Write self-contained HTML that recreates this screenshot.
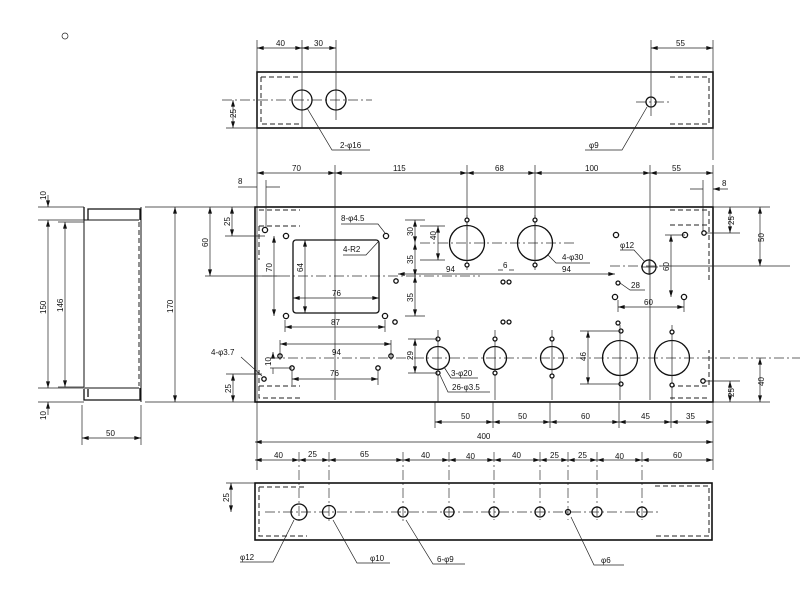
<!DOCTYPE html>
<html><head><meta charset="utf-8"><style>
html,body{margin:0;padding:0;background:#fff;}
svg{display:block;}
text{font-family:"Liberation Sans",sans-serif;font-size:8px;fill:#111;}
.t{stroke:#111;stroke-width:1.6;fill:none}
.d{stroke:#222;stroke-width:0.7;fill:none}
.dm{stroke:#222;stroke-width:0.7;fill:none;marker-start:url(#a);marker-end:url(#a)}
.c{stroke:#333;stroke-width:0.7;stroke-dasharray:10 3 2 3;fill:none}
.h{stroke:#222;stroke-width:1;stroke-dasharray:5 3;fill:none}
.o{stroke:#111;stroke-width:1.3;fill:none}
.s{stroke:#111;stroke-width:1.3;fill:#fff}
</style></head><body>
<svg width="800" height="591" viewBox="0 0 800 591" xmlns="http://www.w3.org/2000/svg">
<defs>
<marker id="a" viewBox="0 0 10 6" refX="10" refY="3" markerWidth="7" markerHeight="4" orient="auto-start-reverse" markerUnits="userSpaceOnUse"><path d="M0,0 L10,3 L0,6z" fill="#111"/></marker>
</defs>

<!-- ===== TOP PANEL ===== -->
<rect x="257" y="72" width="456" height="56" class="t"/>
<path d="M261,77 H300 M261,77 V124 H300 M670,77 H709 V124 H670" class="h"/>
<line x1="222" y1="100" x2="372" y2="100" class="c"/>
<line x1="636" y1="102" x2="670" y2="102" class="c"/>
<circle cx="302" cy="100" r="10" class="o"/><circle cx="336" cy="100" r="10" class="o"/><circle cx="651" cy="102" r="5" class="o"/>
<path d="M302,40 V128 M336,40 V120 M651,40 V116 M257,40 V470 M713,40 V160" class="d"/>
<line x1="257" y1="48" x2="302" y2="48" class="dm"/><line x1="302" y1="48" x2="336" y2="48" class="dm"/>
<line x1="651" y1="48" x2="713" y2="48" class="dm"/>
<text x="276" y="46">40</text><text x="314" y="46">30</text><text x="676" y="46">55</text>
<line x1="233" y1="100" x2="233" y2="128" class="dm"/><path d="M226,128 H257" class="d"/>
<text transform="translate(236,118) rotate(-90)">25</text>
<path d="M307,108 L332,150 H370 M647,107 L622,150 H585" class="d"/>
<text x="340" y="148">2-φ16</text><text x="589" y="148">φ9</text>

<!-- ===== MAIN PANEL ===== -->
<rect x="255" y="207" width="458" height="195" class="t"/>
<path d="M259,210 H300 M259,226 H300 M259,226 V260 M259,370 V398 H300 M259,386 H300 M670,210 H709 V280 M670,225 H709 M670,386 H709 V350 M670,398 H709" class="h"/>
<!-- top dims -->
<path d="M335,165 V400 M467,165 V230 M535,165 V230 M650,165 V400 M713,165 V207" class="d"/>
<line x1="257" y1="173" x2="335" y2="173" class="dm"/><line x1="335" y1="173" x2="467" y2="173" class="dm"/>
<line x1="467" y1="173" x2="535" y2="173" class="dm"/><line x1="535" y1="173" x2="650" y2="173" class="dm"/>
<line x1="650" y1="173" x2="713" y2="173" class="dm"/>
<text x="292" y="171">70</text><text x="393" y="171">115</text><text x="495" y="171">68</text><text x="585" y="171">100</text><text x="672" y="171">55</text>
<path d="M266,180 V232 M703,180 V232" class="d"/>
<path d="M238,187 H257 M280,187 H266 M690,189 H703 M728,189 H713" class="d" marker-end="url(#a)"/>
<text x="238" y="184">8</text><text x="722" y="186">8</text>
<!-- left dims -->
<path d="M145,207 H255 M145,402 H255 M205,276 H280 M225,236 H265" class="d"/>
<line x1="232" y1="207" x2="232" y2="236" class="dm"/><text transform="translate(230,226) rotate(-90)">25</text>
<line x1="210" y1="207" x2="210" y2="276" class="dm"/><text transform="translate(208,247) rotate(-90)">60</text>
<line x1="175" y1="207" x2="175" y2="402" class="dm"/><text transform="translate(173,313) rotate(-90)">170</text>
<line x1="233" y1="374" x2="233" y2="402" class="dm"/><path d="M226,374 H262" class="d"/>
<text transform="translate(231,393) rotate(-90)">25</text>
<text x="211" y="355">4-φ3.7</text><path d="M241,357 L262,376" class="d"/>
<!-- right dims -->
<path d="M713,207 H770 M705,233 H740 M660,266 H790 M705,381 H740 M713,402 H770" class="d"/>
<line x1="730" y1="207" x2="730" y2="233" class="dm"/><text transform="translate(734,225) rotate(-90)">25</text>
<line x1="760" y1="207" x2="760" y2="266" class="dm"/><text transform="translate(764,242) rotate(-90)">50</text>
<line x1="730" y1="381" x2="730" y2="402" class="dm"/><text transform="translate(734,397) rotate(-90)">25</text>
<line x1="760" y1="358" x2="760" y2="402" class="dm"/><text transform="translate(764,386) rotate(-90)">40</text>
<!-- centerlines -->
<line x1="262" y1="276" x2="480" y2="276" class="c"/>
<line x1="420" y1="243" x2="575" y2="243" class="c"/>
<line x1="610" y1="266" x2="665" y2="266" class="c"/>
<line x1="270" y1="358" x2="800" y2="358" class="c"/>
<!-- cutout -->
<rect x="293" y="240" width="86" height="73" rx="3" class="o"/>
<!-- big holes -->
<circle cx="467" cy="243" r="17.5" class="o"/><circle cx="535" cy="243" r="17.5" class="o"/>
<circle cx="649" cy="267" r="7" class="o"/>
<circle cx="438" cy="358" r="11.5" class="o"/><circle cx="495" cy="358" r="11.5" class="o"/><circle cx="552" cy="358" r="11.5" class="o"/>
<circle cx="620" cy="358" r="17.5" class="o"/><circle cx="672" cy="358" r="17.5" class="o"/>
<path d="M467,215 V270 M535,215 V270 M438,330 V402 M495,330 V400 M552,330 V400 M620,325 V400 M672,325 V400 M641,267 H658 M649,259 V275" class="d"/>
<!-- small holes -->
<g class="s">
<circle cx="265" cy="230" r="2.6"/><circle cx="286" cy="236" r="2.6"/><circle cx="386" cy="236" r="2.6"/>
<circle cx="286" cy="316" r="2.6"/><circle cx="385" cy="316" r="2.6"/><circle cx="396" cy="281" r="2.2"/>
<circle cx="395" cy="322" r="2.2"/><circle cx="280" cy="356" r="2.2"/><circle cx="292" cy="368" r="2.2"/>
<circle cx="378" cy="368" r="2.2"/><circle cx="391" cy="356" r="2.2"/><circle cx="264" cy="379" r="2.2"/>
<circle cx="467" cy="220" r="2"/><circle cx="467" cy="265" r="2"/><circle cx="535" cy="220" r="2"/><circle cx="535" cy="265" r="2"/>
<circle cx="503" cy="282" r="2"/><circle cx="509" cy="282" r="2"/><circle cx="503" cy="322" r="2"/><circle cx="509" cy="322" r="2"/>
<circle cx="438" cy="339" r="2"/><circle cx="438" cy="373" r="2"/><circle cx="495" cy="339" r="2"/><circle cx="495" cy="373" r="2"/>
<circle cx="552" cy="339" r="2"/><circle cx="552" cy="376" r="2"/>
<circle cx="616" cy="235" r="2.6"/><circle cx="685" cy="235" r="2.6"/><circle cx="704" cy="233" r="2.2"/>
<circle cx="618" cy="283" r="2"/><circle cx="615" cy="297" r="2.6"/><circle cx="684" cy="297" r="2.6"/>
<circle cx="618" cy="323" r="2"/><circle cx="621" cy="331" r="2"/><circle cx="621" cy="384" r="2"/>
<circle cx="672" cy="332" r="2"/><circle cx="672" cy="385" r="2"/><circle cx="703" cy="381" r="2.2"/>
</g>
<!-- internal dims -->
<path d="M405,220 H425 M405,316 H425 M420,226 H445 M420,260 H445" class="d"/>
<line x1="415" y1="220" x2="415" y2="243" class="dm"/><text transform="translate(413,236) rotate(-90)">30</text>
<line x1="415" y1="243" x2="415" y2="276" class="dm"/><text transform="translate(413,264) rotate(-90)">35</text>
<line x1="415" y1="276" x2="415" y2="316" class="dm"/><text transform="translate(413,302) rotate(-90)">35</text>
<line x1="438" y1="226" x2="438" y2="260" class="dm"/><text transform="translate(436,240) rotate(-90)">40</text>
<line x1="274" y1="236" x2="274" y2="316" class="dm"/><text transform="translate(272,272) rotate(-90)">70</text>
<line x1="305" y1="240" x2="305" y2="313" class="dm"/><text transform="translate(303,272) rotate(-90)">64</text>
<line x1="293" y1="298" x2="379" y2="298" class="dm"/><text x="332" y="296">76</text>
<path d="M285,320 V332 M385,320 V332 M280,340 V360 M391,340 V360 M292,370 V385 M378,370 V385" class="d"/>
<line x1="285" y1="327" x2="385" y2="327" class="dm"/><text x="331" y="325">87</text>
<line x1="280" y1="344" x2="391" y2="344" class="dm"/><text x="332" y="355">94</text>
<line x1="292" y1="379" x2="378" y2="379" class="dm"/><text x="330" y="376">76</text>
<line x1="273" y1="352" x2="273" y2="356" class="d" marker-start="url(#a)"/><line x1="273" y1="368" x2="273" y2="374" class="d"/>
<text transform="translate(271,366) rotate(-90)">10</text>
<path d="M270,368 H292" class="d"/>
<path d="M408,339 H438 M408,373 H438" class="d"/>
<line x1="415" y1="339" x2="415" y2="373" class="dm"/><text transform="translate(413,360) rotate(-90)">29</text>
<path d="M580,331 H621 M580,384 H621" class="d"/>
<line x1="588" y1="331" x2="588" y2="384" class="dm"/><text transform="translate(586,361) rotate(-90)">46</text>
<path d="M665,235 H685" class="d"/>
<line x1="671" y1="235" x2="671" y2="297" class="dm"/><text transform="translate(669,271) rotate(-90)">60</text>
<path d="M618,300 V312 M684,300 V312" class="d"/>
<line x1="618" y1="307" x2="684" y2="307" class="dm"/><text x="644" y="305">60</text>
<line x1="398" y1="274" x2="615" y2="274" class="dm"/>
<text x="446" y="272">94</text><text x="562" y="272">94</text><text x="503" y="268">6</text>
<path d="M498,270 H503 M514,270 H509" class="d"/>
<path d="M620,283 L630,290 H645" class="d"/><text x="631" y="288">28</text>
<!-- leaders -->
<path d="M341,224 H378 L385,233" class="d"/><text x="341" y="221">8-φ4.5</text>
<path d="M343,255 H366 L378,242" class="d"/><text x="343" y="252">4-R2</text>
<path d="M548,255 L556,263 H590" class="d"/><text x="562" y="260">4-φ30</text>
<path d="M620,250 H634 L645,262" class="d"/><text x="620" y="248">φ12</text>
<path d="M444,367 L451,378 H478" class="d"/><text x="451" y="376">3-φ20</text>
<path d="M440,375 L448,392 H490" class="d"/><text x="452" y="390">26-φ3.5</text>
<!-- bottom dims -->
<path d="M435,402 V428 M493,402 V428 M550,402 V428 M619,402 V428 M671,402 V428 M713,402 V470" class="d"/>
<line x1="435" y1="422" x2="493" y2="422" class="dm"/><line x1="493" y1="422" x2="550" y2="422" class="dm"/>
<line x1="550" y1="422" x2="619" y2="422" class="dm"/><line x1="619" y1="422" x2="671" y2="422" class="dm"/>
<line x1="671" y1="422" x2="713" y2="422" class="dm"/>
<text x="461" y="419">50</text><text x="518" y="419">50</text><text x="581" y="419">60</text><text x="641" y="419">45</text><text x="686" y="419">35</text>
<line x1="255" y1="442" x2="713" y2="442" class="dm"/><text x="477" y="439">400</text>

<!-- ===== BOTTOM PANEL chain ===== -->
<g class="dm">
<line x1="255" y1="460" x2="299" y2="460"/><line x1="299" y1="460" x2="329" y2="460"/><line x1="329" y1="460" x2="403" y2="460"/>
<line x1="403" y1="460" x2="449" y2="460"/><line x1="449" y1="460" x2="494" y2="460"/><line x1="494" y1="460" x2="540" y2="460"/>
<line x1="540" y1="460" x2="568" y2="460"/><line x1="568" y1="460" x2="597" y2="460"/><line x1="597" y1="460" x2="642" y2="460"/>
<line x1="642" y1="460" x2="713" y2="460"/>
</g>
<text x="274" y="458">40</text><text x="308" y="457">25</text><text x="360" y="457">65</text><text x="421" y="458">40</text>
<text x="466" y="459">40</text><text x="512" y="458">40</text><text x="550" y="458">25</text><text x="578" y="458">25</text>
<text x="615" y="459">40</text><text x="673" y="458">60</text>
<path d="M299,452 V522 M329,452 V522 M403,452 V522 M449,452 V520 M494,452 V520 M540,452 V520 M568,452 V520 M597,452 V520 M642,452 V520" class="c"/>
<rect x="255" y="483" width="457" height="57" class="t"/>
<path d="M259,487 H305 M259,487 V536 H307 M655,486 H709 V536 H655" class="h"/>
<line x1="265" y1="512" x2="660" y2="512" class="c"/>
<circle cx="299" cy="512" r="8" class="o"/><circle cx="329" cy="512" r="6.5" class="o"/>
<circle cx="403" cy="512" r="5" class="o"/><circle cx="449" cy="512" r="5" class="o"/><circle cx="494" cy="512" r="5" class="o"/>
<circle cx="540" cy="512" r="5" class="o"/><circle cx="568" cy="512" r="2.5" class="o"/><circle cx="597" cy="512" r="5" class="o"/>
<circle cx="642" cy="512" r="5" class="o"/>
<path d="M226,483 H255" class="d"/>
<line x1="231" y1="483" x2="231" y2="512" class="dm"/><text transform="translate(229,502) rotate(-90)">25</text>
<path d="M294,520 L273,562 H240 M333,520 L357,563 H390 M406,520 L433,564 H465 M571,517 L594,565 H624" class="d"/>
<text x="240" y="560">φ12</text><text x="370" y="561">φ10</text><text x="437" y="562">6-φ9</text><text x="601" y="563">φ6</text>

<!-- ===== SIDE VIEW ===== -->
<path d="M88,220 V209 H140 V220" class="t" style="stroke-width:1.3"/>
<path d="M84,207 V220" class="t" style="stroke-width:1.3"/>
<path d="M84,220 V387 M84,220 H139 M84,388 H139" class="o" style="stroke-width:1"/>
<path d="M84,389 V400 H140 V388" class="t" style="stroke-width:1.3"/>
<path d="M88,389 V397" class="o"/>
<line x1="139" y1="222" x2="139" y2="386" class="h"/>
<path d="M141,207 V402" class="o" style="stroke-width:1"/>
<path d="M38,207 H84 M38,220 H84 M58,222 H84 M58,387 H84 M38,388 H84 M38,402 H84 M82,405 V445 M141,405 V445" class="d"/>
<line x1="48" y1="195" x2="48" y2="207" class="d" marker-end="url(#a)"/>
<line x1="48" y1="220" x2="48" y2="388" class="dm"/>
<line x1="48" y1="415" x2="48" y2="402" class="d" marker-end="url(#a)"/>
<text transform="translate(46,200) rotate(-90)">10</text>
<text transform="translate(46,314) rotate(-90)">150</text>
<text transform="translate(46,420) rotate(-90)">10</text>
<line x1="65" y1="222" x2="65" y2="387" class="dm"/><text transform="translate(63,312) rotate(-90)">146</text>
<line x1="82" y1="438" x2="141" y2="438" class="dm"/><text x="106" y="436">50</text>
<circle cx="65" cy="36" r="3" class="d"/>
</svg>
</body></html>
